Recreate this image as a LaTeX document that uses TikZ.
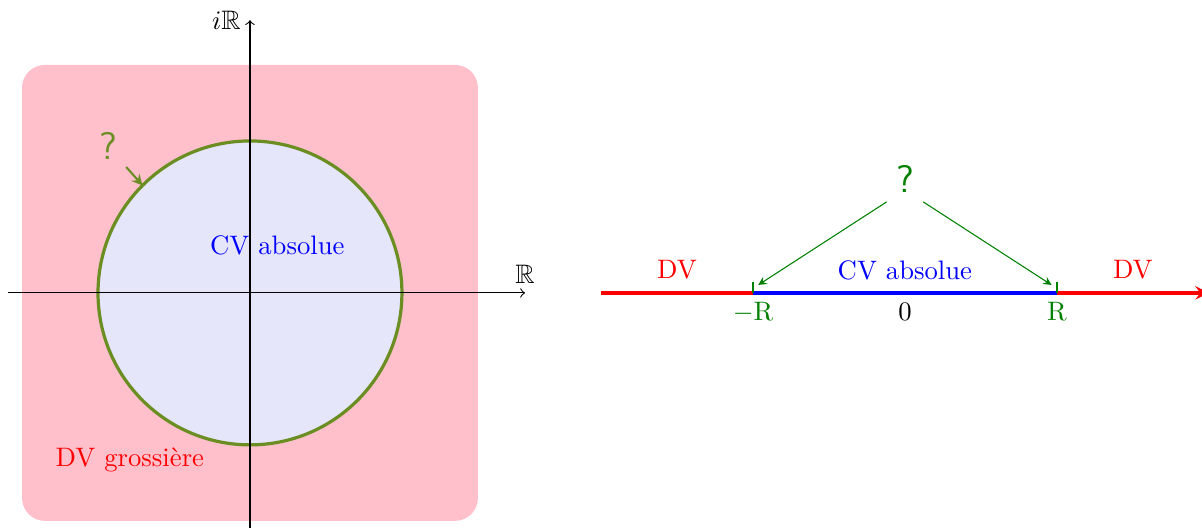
\documentclass[tikz,border=0pt]{standalone}
\usepackage{amssymb}
\definecolor{rosefond}{RGB}{255,192,203}
\definecolor{lavande}{RGB}{230,230,250}
\definecolor{olive}{RGB}{107,142,35}
\definecolor{vert}{RGB}{0,128,0}
\begin{document}
\begin{tikzpicture}[>=stealth, question/.style={font=\sffamily\Large}]
        \useasboundingbox (-3.29,-3.12) rectangle (12.53,3.855);
        % plan complexe
        \fill[rosefond, rounded corners=0.3cm] (-3,-3) rectangle (3,3);
        \draw[very thick, olive, fill=lavande] (0,0) circle (2);
        \draw[-to] (-3.18,0) -- (3.62,0) node[above] (re) {$\mathbb{R}$};
        \draw[-to] (0,-3.09) -- (0,3.59) node[left] (im) {$i\mathbb{R}$};
        \node[blue] (cv) at (0.36,0.62) {CV absolue};
        \node[red] (dv) at (-1.58,-2.2) {DV grossière};
        \node[question, olive] (q) at (-1.87,1.93) {?};
        \coordinate (bord) at (135:2);
        \draw[->, olive, thick] (q) -- (bord);
        % droite reelle
        \coordinate (g) at (4.62,0);
        \coordinate (mR) at (6.62,0);
        \coordinate (pR) at (10.62,0);
        \coordinate (d) at (12.62,0);
        \draw[red, very thick] (g) -- (mR);
        \draw[red, very thick, ->] (pR) -- (d);
        \draw[blue, very thick] (mR) -- (pR);
        \draw[vert, thick] (mR) -- ++(0,0.14) coordinate (tm);
        \draw[vert, thick] (pR) -- ++(0,0.14) coordinate (tp);
        \node[vert, below] (lm) at (mR) {$-$R};
        \node[below] (l0) at (8.62,0) {0};
        \node[vert, below] (lp) at (pR) {R};
        \node[red] (dvg) at (5.62,0.3) {DV};
        \node[red] (dvd) at (11.62,0.3) {DV};
        \node[blue] (cvr) at (8.62,0.3) {CV absolue};
        \node[question, vert] (q2) at (8.62,1.5) {?};
        \draw[->, vert] (q2.south west) -- ([xshift=2pt,yshift=-1pt]tm);
        \draw[->, vert] (q2.south east) -- ([xshift=-2pt,yshift=-1pt]tp);
\end{tikzpicture}
\end{document}
